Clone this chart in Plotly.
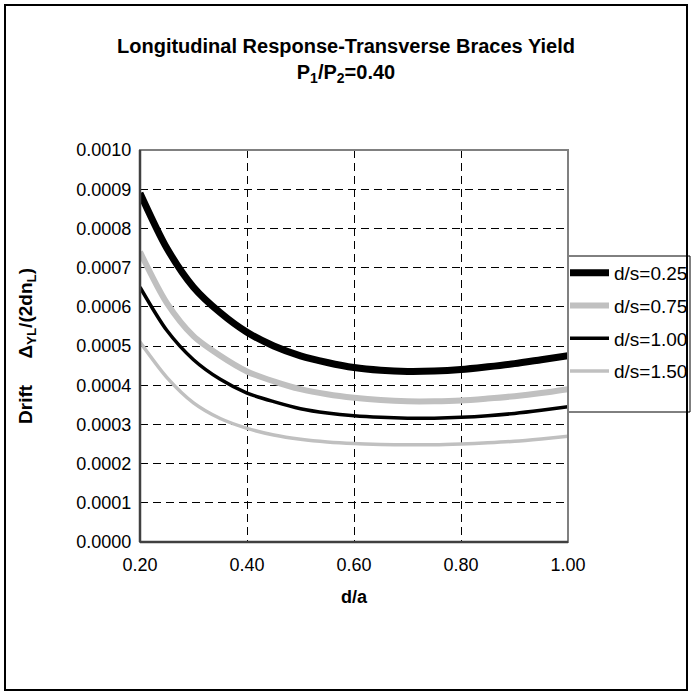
import plotly.graph_objects as go

x_vals = [0.20, 0.25, 0.30, 0.35, 0.40, 0.45, 0.50, 0.55, 0.60, 0.65, 0.70, 0.75, 0.80, 0.85, 0.90, 0.95, 1.00]

ds025 = [0.00089, 0.00075, 0.00065, 0.000585, 0.000535, 0.000500, 0.000475, 0.000458, 0.000445, 0.000438, 0.000435, 0.000436, 0.000440, 0.000447, 0.000455, 0.000465, 0.000475]
ds075 = [0.00074, 0.00061, 0.000525, 0.000475, 0.000435, 0.000410, 0.000390, 0.000377, 0.000368, 0.000362, 0.000359, 0.000359, 0.000361, 0.000366, 0.000372, 0.000380, 0.000390]
ds100 = [0.00065, 0.00054, 0.000465, 0.000415, 0.000380, 0.000358, 0.000340, 0.000329, 0.000322, 0.000318, 0.000316, 0.000316, 0.000318, 0.000322, 0.000328, 0.000336, 0.000345]
ds150 = [0.00051, 0.00042, 0.000355, 0.000315, 0.000290, 0.000273, 0.000262, 0.000255, 0.000251, 0.000249, 0.000248, 0.000248, 0.000250, 0.000253, 0.000257, 0.000263, 0.000270]

series_names = ["d/s=0.25", "d/s=0.75", "d/s=1.00", "d/s=1.50"]
series_vals = [ds025, ds075, ds100, ds150]
series_colors = ["#000000", "#C0C0C0", "#000000", "#C0C0C0"]
series_widths = [7, 6, 3.5, 3.5]

x_ticks = [0.2, 0.4, 0.6, 0.8, 1.0]
x_ticklabels = ["0.20", "0.40", "0.60", "0.80", "1.00"]
y_ticks = [i * 0.0001 for i in range(11)]
y_ticklabels = ["%.4f" % v for v in y_ticks]

W, H = 692, 696
L, R, T, B = 140, 124, 150, 154
pw, ph = W - L - R, H - T - B

def px(xp):
    return (xp - L) / pw

def py(yp):
    return (H - B - yp) / ph

fig = go.Figure()
for i, (name, vals, col, w) in enumerate(zip(series_names, series_vals, series_colors, series_widths)):
    fig.add_trace(go.Scatter(x=x_vals, y=vals, mode="lines", name=name, legendgroup="g%d" % i,
                             line=dict(color=col, width=w, shape="spline", smoothing=0.8)))

font = "Arial, Liberation Sans, sans-serif"
fig.update_layout(
    width=W, height=H,
    margin=dict(l=L, r=R, t=T, b=B, autoexpand=False),
    paper_bgcolor="white", plot_bgcolor="white",
    font=dict(family=font, size=18, color="black"),
    title=dict(text="<b>Longitudinal Response-Transverse Braces Yield<br>P<sub>1</sub>/P<sub>2</sub>=0.40</b>",
               x=0.5, xanchor="center", y=1 - 53 / H, yanchor="top",
               font=dict(family=font, size=20, color="black")),
    showlegend=True,
    legend=dict(x=px(565), y=py(254), xanchor="left", yanchor="top",
                borderwidth=0, bgcolor="rgba(0,0,0,0)",
                font=dict(family=font, size=19), tracegroupgap=5,
                itemwidth=39),
    xaxis=dict(range=[0.2, 1.0], tickvals=x_ticks, ticktext=x_ticklabels,
               showgrid=True, gridcolor="black", griddash="8px,5px", gridwidth=1,
               showline=False, zeroline=False, ticks="outside", ticklen=6,
               tickcolor="rgba(0,0,0,0)",
               title=dict(text="<b>d/a</b>", font=dict(size=18), standoff=16)),
    yaxis=dict(range=[0, 0.001], tickvals=y_ticks, ticktext=y_ticklabels,
               showgrid=True, gridcolor="black", griddash="8px,5px", gridwidth=1,
               showline=False, zeroline=False, ticks="outside", ticklen=4,
               tickcolor="rgba(0,0,0,0)",
               title=dict(text="<b>Drift&nbsp;&nbsp;&nbsp;&nbsp; Δ<sub>YL</sub>/(2dn<sub>L</sub>)</b>",
                          font=dict(size=19), standoff=38)),
)

# plot area border (gray) and dark left/bottom axes
fig.add_shape(type="rect", xref="paper", yref="paper", x0=0, y0=0, x1=1, y1=1,
              line=dict(color="#808080", width=2), layer="above")
fig.add_shape(type="line", xref="paper", yref="paper", x0=0, y0=0, x1=0, y1=1,
              line=dict(color="#404040", width=2.5), layer="above")
fig.add_shape(type="line", xref="paper", yref="paper", x0=0, y0=0, x1=1, y1=0,
              line=dict(color="#404040", width=2.5), layer="above")
# legend box
fig.add_shape(type="rect", xref="paper", yref="paper",
              x0=px(568), y0=py(412), x1=px(690), y1=py(256),
              line=dict(color="black", width=1), fillcolor="white", layer="below")
# outer chart border
fig.add_shape(type="rect", xref="paper", yref="paper",
              x0=px(5), y0=py(690), x1=px(687), y1=py(5),
              line=dict(color="black", width=2), layer="below")

fig.write_html("out.html")
